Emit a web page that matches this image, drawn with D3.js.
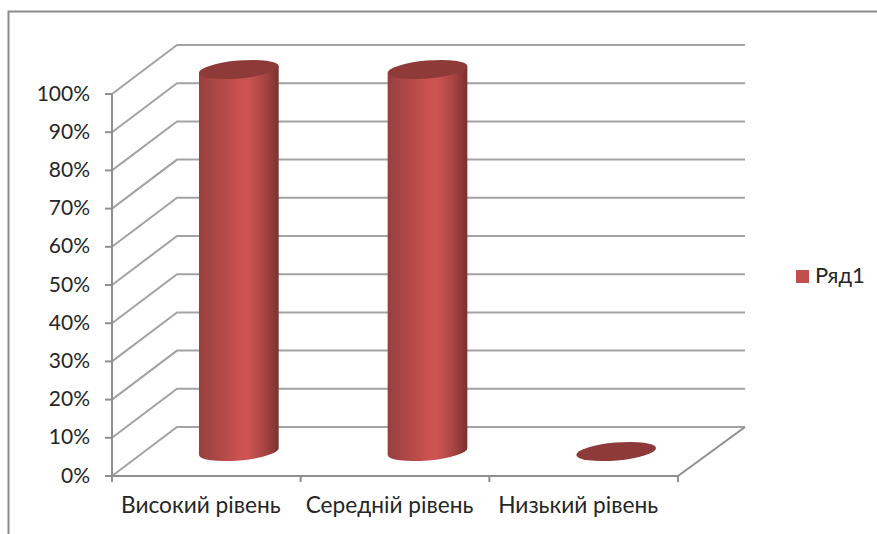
<!DOCTYPE html>
<html>
<head>
<meta charset="utf-8">
<script src="https://cdnjs.cloudflare.com/ajax/libs/d3/7.8.5/d3.min.js"></script>
<style>
html,body{margin:0;padding:0;background:#fff}
svg{display:block}
text{font-family:Lato,"Open Sans","Noto Sans",sans-serif;fill:#262626}
</style>
</head>
<body>
<svg id="chart" width="877" height="534"></svg>
<script>
const categories = ["Високий рівень", "Середній рівень", "Низький рівень"];
const seriesValues = [100, 100, 0];
const yTicks = [0, 10, 20, 30, 40, 50, 60, 70, 80, 90, 100];
const seriesName = "Ряд1";

const svg = d3.select("#chart");
const frontLeft = 112, frontRight = 678, frontBase = 476, frontTop = 94;
const depthX = 65, depthY = -49;

const x = d3.scaleBand().domain(categories).range([frontLeft, frontRight]);
const y = d3.scaleLinear().domain([0, 100]).range([frontBase, frontTop]);

// Shading across the cylinder, dark at the rims and bright right of centre
const defs = svg.append("defs");
const grad = defs.append("linearGradient").attr("id", "barShade");
[[0, "#97403e"], [0.2, "#aa4745"], [0.5, "#c9514f"], [0.62, "#cd5452"], [0.82, "#a84543"], [1, "#7a3230"]]
  .forEach(([o, c]) => grad.append("stop").attr("offset", o).attr("stop-color", c));

// Outer frame of the chart area, open at the right and bottom
svg.append("path")
  .attr("d", "M8.5,534V11.5H877")
  .attr("fill", "none").attr("stroke", "#8c8c8c").attr("stroke-width", 2);

const gridColor = "#a3a3a3", axisColor = "#8f8f8f";
const grid = svg.append("g").attr("fill", "none").attr("stroke-width", 2);

// Back-wall rules with their diagonal run along the side wall
grid.selectAll("path.rule").data(yTicks).join("path")
  .attr("class", "rule")
  .attr("stroke", gridColor)
  .attr("d", t => d3.line()([
    [frontLeft, y(t)],
    [frontLeft + depthX, y(t) + depthY],
    [frontLeft + depthX + (frontRight - frontLeft) + 2, y(t) + depthY]
  ]));

// Right edge of the floor and the front axes
grid.append("path").attr("stroke", axisColor)
  .attr("d", d3.line()([
    [frontRight, frontBase],
    [frontRight + depthX + 2, frontBase + depthY]
  ]));
grid.append("path").attr("stroke", axisColor)
  .attr("d", d3.line()([[frontLeft, y(100)], [frontLeft, frontBase], [frontRight, frontBase]]));

// Tick marks
grid.selectAll("path.ytick").data(yTicks).join("path")
  .attr("class", "ytick").attr("stroke", axisColor)
  .attr("d", t => `M${frontLeft - 7},${y(t)}H${frontLeft}`);
const xEdges = categories.map(c => x(c)).concat(frontRight);
grid.selectAll("path.xtick").data(xEdges).join("path")
  .attr("class", "xtick").attr("stroke", axisColor)
  .attr("d", e => `M${e},${frontBase}V${frontBase + 6}`);

// Axis labels
svg.append("g").selectAll("text").data(yTicks).join("text")
  .attr("x", 90).attr("y", t => y(t) + 6.5)
  .attr("text-anchor", "end").attr("font-size", 21)
  .text(t => t + "%");
svg.append("g").selectAll("text").data(categories).join("text")
  .attr("x", c => x(c) + x.bandwidth() / 2 - 5.5).attr("y", 513)
  .attr("text-anchor", "middle").attr("font-size", 22.7)
  .text(c => c);

// Cylinders: tilted ellipses joined by the shaded body
const rx = 40, ry = 9, tilt = -5;
const rad = tilt * Math.PI / 180;
const ex = rx * Math.cos(rad), ey = rx * Math.sin(rad);
const bars = svg.append("g").selectAll("g")
  .data(categories.map((c, i) => ({ c, v: seriesValues[i] })))
  .join("g")
  .attr("transform", d => `translate(${x(d.c) + x.bandwidth() / 2 + depthX / 2},${frontBase + depthY / 2})`);

// Body runs from the cap (raised by the value) down to the lower arc at the floor
bars.filter(d => d.v > 0).append("path")
  .attr("fill", "url(#barShade)")
  .attr("d", d => {
    const top = y(d.v) - y(0);
    return `M${-ex},${-ey}L${-ex},${-ey + top}` +
      `L${ex},${ey + top}` +
      `L${ex},${ey}` +
      `A${rx},${ry} ${tilt} 0 1 ${-ex},${-ey}Z`;
  });
bars.append("ellipse")
  .attr("cx", 0).attr("cy", d => y(d.v) - y(0))
  .attr("rx", rx).attr("ry", ry)
  .attr("fill", "#8e3a38")
  .attr("transform", d => `rotate(${tilt} 0 ${y(d.v) - y(0)})`);

// Legend
svg.append("rect").attr("x", 796).attr("y", 270).attr("width", 13).attr("height", 13).attr("fill", "#c0504d");
svg.append("text").attr("x", 815).attr("y", 283).attr("font-size", 22).text(seriesName);
</script>
</body>
</html>
